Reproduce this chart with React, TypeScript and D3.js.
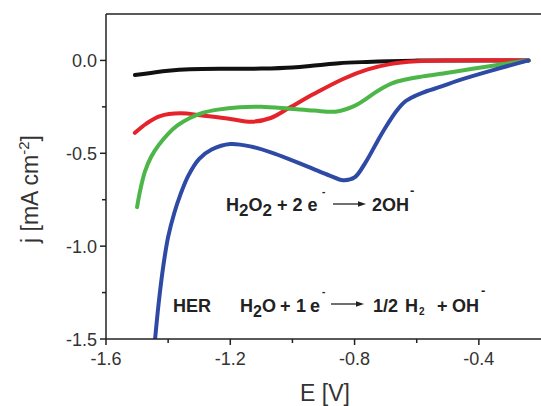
import React from "react";
import * as d3 from "d3";

const blackE = [-1.507, -1.45, -1.4, -1.33, -1.2, -1.1, -1.0, -0.92, -0.85, -0.76, -0.69, -0.6, -0.5, -0.4, -0.24];
const blackJ = [-0.079, -0.066, -0.056, -0.048, -0.045, -0.044, -0.038, -0.026, -0.015, -0.008, -0.004, -0.001, 0, 0, 0];

const redE = [-1.507, -1.47, -1.426, -1.36, -1.297, -1.2, -1.13, -1.07, -1.01, -0.93, -0.837, -0.76, -0.686, -0.6, -0.5, -0.24];
const redJ = [-0.39, -0.34, -0.30, -0.285, -0.295, -0.315, -0.33, -0.31, -0.255, -0.18, -0.10, -0.05, -0.02, -0.005, 0, 0];

const greenE = [-1.5, -1.49, -1.475, -1.455, -1.43, -1.4, -1.37, -1.33, -1.29, -1.24, -1.17, -1.1, -1.01, -0.93, -0.857, -0.8, -0.77, -0.74, -0.71, -0.68, -0.64, -0.58, -0.5, -0.42, -0.33, -0.24];
const greenJ = [-0.79, -0.70, -0.60, -0.52, -0.455, -0.395, -0.35, -0.31, -0.283, -0.265, -0.252, -0.25, -0.26, -0.27, -0.275, -0.245, -0.215, -0.18, -0.148, -0.123, -0.104, -0.086, -0.066, -0.045, -0.022, 0];

const blueE = [-1.442, -1.43, -1.415, -1.4, -1.38, -1.36, -1.335, -1.3, -1.26, -1.2, -1.13, -1.06, -0.953, -0.88, -0.837, -0.8, -0.765, -0.728, -0.7, -0.664, -0.64, -0.61, -0.58, -0.52, -0.47, -0.36, -0.24];
const blueJ = [-1.5, -1.3, -1.1, -0.95, -0.82, -0.72, -0.62, -0.53, -0.48, -0.45, -0.465, -0.50, -0.57, -0.62, -0.645, -0.63, -0.55, -0.44, -0.36, -0.27, -0.225, -0.195, -0.173, -0.14, -0.11, -0.055, 0];

const xTicks = [-1.6, -1.2, -0.8, -0.4];
const xMinor = [-1.4, -1.0, -0.6];
const yTicks = [0, -0.5, -1.0, -1.5];
const yMinor = [-0.25, -0.75, -1.25];

const series = [
  { E: blackE, J: blackJ, color: "#111111" },
  { E: redE, J: redJ, color: "#e4232b" },
  { E: greenE, J: greenJ, color: "#4cb648" },
  { E: blueE, J: blueJ, color: "#2e4aa5" },
];

const W = 541, H = 406;
const L = 106, R = 541, T = 14, B = 339;

function Arrow({ x1, x2, yy }: { x1: number; x2: number; yy: number }) {
  return (
    <g>
      <line x1={x1} x2={x2 - 6} y1={yy} y2={yy} stroke="#222" strokeWidth={1.3} />
      <polygon points={`${x2},${yy} ${x2 - 8},${yy - 2.8} ${x2 - 8},${yy + 2.8}`} fill="#222" />
    </g>
  );
}

export default function App() {
  const x = d3.scaleLinear().domain([-1.6, -0.2]).range([L, R]);
  const y = d3.scaleLinear().domain([-1.5, 0.25]).range([B, T]);
  const line = d3
    .line<[number, number]>()
    .x((d) => x(d[0]))
    .y((d) => y(d[1]))
    .curve(d3.curveCatmullRom.alpha(0.5));
  const font = "'Liberation Sans', Arial, sans-serif";
  const axisColor = "#222";
  const labelColor = "#333";
  const ann = { fontSize: 18, fontWeight: "bold" as const, fill: "#222" };
  const T1 = ({ at, yy, children, size }: { at: number; yy: number; children: React.ReactNode; size?: number }) => (
    <text x={at} y={yy} {...ann} fontSize={size ?? 18}>
      {children}
    </text>
  );
  return (
    <svg width={W} height={H} style={{ position: "absolute", left: 0, top: 0, background: "#fff" }} fontFamily={font}>
      <rect x={0} y={0} width={W} height={H} fill="#fff" />
      <defs>
        <clipPath id="plot">
          <rect x={L} y={T} width={R - L} height={B - T} />
        </clipPath>
      </defs>
      <g clipPath="url(#plot)">
        {series.map((s, i) => (
          <path
            key={i}
            d={line(s.E.map((e, k) => [e, s.J[k]] as [number, number])) || ""}
            fill="none"
            stroke={s.color}
            strokeWidth={4}
            strokeLinecap="round"
            strokeLinejoin="round"
          />
        ))}
      </g>
      {/* axes */}
      <line x1={L} x2={R} y1={T} y2={T} stroke={axisColor} strokeWidth={1.5} />
      <line x1={L} x2={L} y1={T} y2={B} stroke={axisColor} strokeWidth={1.5} />
      <line x1={L} x2={R} y1={B} y2={B} stroke={axisColor} strokeWidth={1.5} />
      {xTicks.map((t) => (
        <g key={"xt" + t}>
          <line x1={x(t)} x2={x(t)} y1={B} y2={B + 6} stroke={axisColor} strokeWidth={1.5} />
          <text x={x(t)} y={B + 26} textAnchor="middle" fontSize={18} fill={labelColor}>
            {t.toFixed(1)}
          </text>
        </g>
      ))}
      {xMinor.map((t) => (
        <line key={"xm" + t} x1={x(t)} x2={x(t)} y1={B} y2={B + 4} stroke={axisColor} strokeWidth={1.5} />
      ))}
      {yTicks.map((t) => (
        <g key={"yt" + t}>
          <line x1={L - 6} x2={L} y1={y(t)} y2={y(t)} stroke={axisColor} strokeWidth={1.5} />
          <text x={L - 9} y={y(t) + 6.5} textAnchor="end" fontSize={18} fill={labelColor}>
            {t.toFixed(1)}
          </text>
        </g>
      ))}
      {yMinor.map((t) => (
        <line key={"ym" + t} x1={L - 4} x2={L} y1={y(t)} y2={y(t)} stroke={axisColor} strokeWidth={1.5} />
      ))}
      {/* axis titles */}
      <text x={325} y={401} textAnchor="middle" fontSize={23} fill={labelColor}>
        E [V]
      </text>
      <text transform="translate(38,189) rotate(-90)" textAnchor="middle" fontSize={23} fill={labelColor}>
        j [mA cm<tspan fontSize={15} dy={-9}>-2</tspan>
        <tspan dy={9}>]</tspan>
      </text>
      {/* annotation: H2O2 + 2 e- -> 2OH- */}
      <T1 at={226} yy={211}>
        H<tspan fontSize={17} dy={5}>2</tspan>
        <tspan dy={-5}>O</tspan>
        <tspan fontSize={17} dy={5}>2</tspan>
        <tspan dy={-5}> + 2 e</tspan>
      </T1>
      <T1 at={322} yy={195} size={10}>-</T1>
      <Arrow x1={333} x2={366} yy={204} />
      <T1 at={372} yy={211}>
        2OH
      </T1>
      <T1 at={410} yy={195} size={13}>-</T1>
      {/* annotation: HER line */}
      <T1 at={173} yy={312}>HER</T1>
      <T1 at={240} yy={312}>
        H<tspan fontSize={16} dy={5}>2</tspan>
        <tspan dy={-5}>O</tspan>
      </T1>
      <T1 at={280} yy={312}>+</T1>
      <T1 at={296} yy={312}>1</T1>
      <T1 at={310} yy={312}>e</T1>
      <T1 at={322} yy={295} size={10}>-</T1>
      <Arrow x1={331} x2={364} yy={304} />
      <T1 at={373} yy={312}>1/2</T1>
      <T1 at={405} yy={312}>H</T1>
      <T1 at={419} yy={315} size={10}>2</T1>
      <T1 at={437} yy={312}>+</T1>
      <T1 at={452} yy={312}>OH</T1>
      <T1 at={481} yy={295} size={13}>-</T1>
    </svg>
  );
}
